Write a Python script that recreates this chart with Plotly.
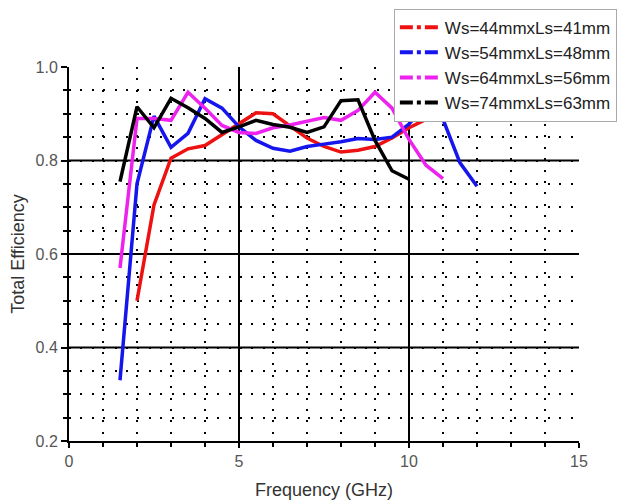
import plotly.graph_objects as go

names = ["Ws=44mmxLs=41mm", "Ws=54mmxLs=48mm", "Ws=64mmxLs=56mm", "Ws=74mmxLs=63mm"]
colors = ["#ee1111", "#1515ee", "#ee22ee", "#000000"]

f_red = [2, 2.5, 3, 3.5, 4, 4.5, 5, 5.5, 6, 6.5, 7, 7.5, 8, 8.5, 9, 9.5, 10, 10.5, 11, 11.5, 12]
e_red = [0.50, 0.705, 0.805, 0.825, 0.832, 0.855, 0.88, 0.902, 0.90, 0.875, 0.848, 0.83, 0.818, 0.822, 0.83, 0.848, 0.87, 0.888, 0.90, 0.906, 0.908]

f_blue = [1.5, 2, 2.5, 3, 3.5, 4, 4.5, 5, 5.5, 6, 6.5, 7, 7.5, 8, 8.5, 9, 9.5, 10, 10.5, 11, 11.5, 12]
e_blue = [0.33, 0.75, 0.895, 0.828, 0.858, 0.932, 0.912, 0.872, 0.843, 0.826, 0.82, 0.83, 0.835, 0.84, 0.847, 0.845, 0.85, 0.878, 0.918, 0.888, 0.795, 0.745]

f_mag = [1.5, 2, 2.5, 3, 3.5, 4, 4.5, 5, 5.5, 6, 6.5, 7, 7.5, 8, 8.5, 9, 9.5, 10, 10.5, 11]
e_mag = [0.57, 0.89, 0.89, 0.886, 0.946, 0.912, 0.875, 0.86, 0.858, 0.87, 0.876, 0.884, 0.892, 0.886, 0.907, 0.946, 0.912, 0.845, 0.79, 0.761]

f_blk = [1.5, 2, 2.5, 3, 3.5, 4, 4.5, 5, 5.5, 6, 6.5, 7, 7.5, 8, 8.5, 9, 9.5, 10]
e_blk = [0.755, 0.915, 0.87, 0.933, 0.913, 0.89, 0.86, 0.872, 0.886, 0.877, 0.871, 0.86, 0.872, 0.928, 0.93, 0.843, 0.778, 0.76]

series_f = [f_red, f_blue, f_mag, f_blk]
series_e = [e_red, e_blue, e_mag, e_blk]

x_major_lines = [5, 10]
y_major_lines = [0.4, 0.6, 0.8]

fig = go.Figure()
for fx, ey, c in zip(series_f, series_e, colors):
    fig.add_trace(go.Scatter(x=fx, y=ey, mode="lines", showlegend=False,
                             line=dict(color=c, width=3.5)))
for n, c in zip(names, colors):
    fig.add_trace(go.Scatter(x=[None], y=[None], mode="lines", name=n,
                             line=dict(color=c, width=4, dash="13px,4px,4px,4px")))

shapes = []
for xv in x_major_lines:
    shapes.append(dict(type="line", xref="x", yref="y", x0=xv, x1=xv, y0=0.2, y1=1.0,
                       line=dict(color="black", width=2), layer="below"))
for yv in y_major_lines:
    shapes.append(dict(type="line", xref="x", yref="y", x0=0, x1=15, y0=yv, y1=yv,
                       line=dict(color="black", width=2), layer="below"))

fig.update_layout(
    width=620, height=494,
    margin=dict(l=61, r=49, t=59, b=61, autoexpand=False),
    paper_bgcolor="white", plot_bgcolor="white",
    font=dict(family="Liberation Sans, Arial, sans-serif", color="#333333"),
    shapes=shapes,
    legend=dict(x=0.637, y=1.156, xanchor="left", yanchor="top",
                bgcolor="white", bordercolor="#aaaaaa", borderwidth=1,
                itemwidth=40,
                font=dict(size=17, color="#222222"), tracegroupgap=0),
    xaxis=dict(range=[0, 15], tickvals=[0, 5, 10, 15], showgrid=False, zeroline=False,
               showline=True, linecolor="black", linewidth=2,
               ticks="outside", ticklen=5, tickwidth=2, tickcolor="black",
               tickfont=dict(size=16, color="#555555"),
               title=dict(text="Frequency (GHz)", font=dict(size=18, color="#333333"), standoff=14),
               minor=dict(dtick=1, showgrid=True, gridcolor="black", gridwidth=2,
                          griddash="2px,9.4px", ticks="outside", ticklen=4,
                          tickwidth=2, tickcolor="black")),
    yaxis=dict(range=[0.2, 1.0], tickvals=[0.2, 0.4, 0.6, 0.8, 1.0],
               ticktext=["0.2", "0.4", "0.6", "0.8", "1.0"],
               showgrid=False, zeroline=False,
               showline=True, linecolor="black", linewidth=2,
               ticks="outside", ticklen=6, tickwidth=2, tickcolor="black",
               tickfont=dict(size=16, color="#555555"),
               title=dict(text="Total Efficiency", font=dict(size=18, color="#333333"), standoff=8),
               minor=dict(dtick=0.05, showgrid=True, gridcolor="black", gridwidth=2,
                          griddash="2px,9.4px", ticks="outside", ticklen=4,
                          tickwidth=2, tickcolor="black")),
)

fig.write_html("out.html")
